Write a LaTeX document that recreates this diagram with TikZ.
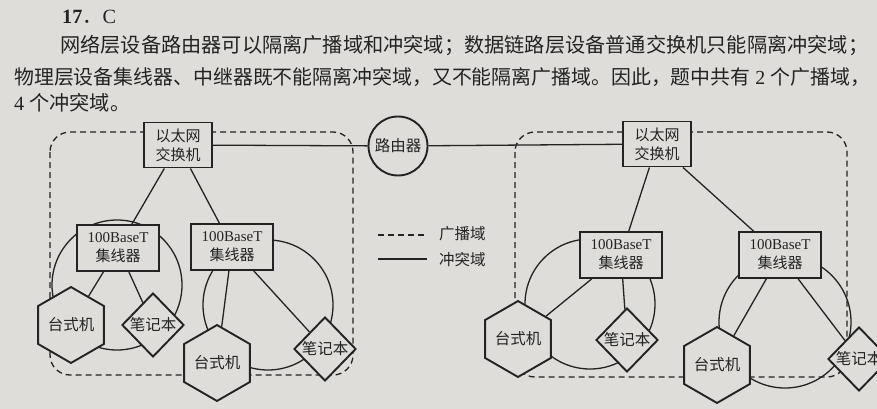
\documentclass[tikz,border=0pt]{standalone}
\usepackage{fontspec}
\setmainfont{Liberation Serif}
\newfontfamily\cjk{Noto Sans CJK SC}
\usetikzlibrary{shapes.geometric}
\definecolor{paper}{RGB}{222,221,217}
\definecolor{ink}{RGB}{35,35,35}

\begin{document}
\begin{tikzpicture}[x=1pt,y=-1pt,
  every node/.style={text=ink},
  swbox/.style={draw=ink,line width=1.9pt,fill=paper,minimum width=68pt,minimum height=45pt,inner sep=0pt,align=center,font=\fontsize{15}{19}\selectfont},
  hubbox/.style={swbox,minimum width=82pt,minimum height=46pt},
  pc/.style={draw=ink,line width=1.9pt,fill=paper,regular polygon,regular polygon sides=6,shape border rotate=30,minimum size=65pt,inner sep=0pt,font=\cjk\fontsize{15.5}{19}\selectfont},
  nb/.style={draw=ink,line width=1.9pt,fill=paper,diamond,minimum width=62pt,minimum height=64pt,inner sep=0pt,font=\cjk\fontsize{15.5}{19}\selectfont},
  wire/.style={draw=ink,line width=1.3pt},
  bcast/.style={wire,dash pattern=on 6pt off 4pt},
  txt/.style={anchor=west,inner sep=0pt,font=\fontsize{20.2}{24}\selectfont}
]
\fill[paper] (0,0) rectangle (877,409);
\useasboundingbox (0,0) rectangle (877,409);

% answer text
\node[txt] (head) at (62,17) {\textbf{17}{\cjk ．}C};
\node[txt] (lineA) at (60,46) {\cjk 网络层设备路由器可以隔离广播域和冲突域；数据链路层设备普通交换机只能隔离冲突域；};
\node[txt,font=\fontsize{19.9}{24}\selectfont] (lineB) at (14,77) {{\cjk 物理层设备集线器、中继器既不能隔离冲突域，又不能隔离广播域。因此，题中共有} 2 {\cjk 个广播域，}};
\node[txt] (lineC) at (14,103) {4 {\cjk 个冲突域。}};

% broadcast domains
\draw[bcast,rounded corners=20pt] (50,132) rectangle (353,375);
\draw[bcast,rounded corners=20pt] (515,132) rectangle (847,377);

% collision domains
\draw[wire] (117,285) circle (65);
\draw[wire] (268,305) circle (65);
\draw[wire] (590,304) circle (65);
\draw[wire] (785,322) circle (66);

% devices
\node[swbox] (swL) at (178,145) {\cjk 以太网\\\cjk 交换机};
\node[draw=ink,line width=1.9pt,fill=paper,circle,minimum size=59pt,inner sep=0pt,font=\cjk\fontsize{15.5}{19}\selectfont] (router) at (398,146) {路由器};
\node[swbox] (swR) at (657,144) {\cjk 以太网\\\cjk 交换机};

\node[hubbox] (hubA) at (118,248) {100BaseT\\\cjk 集线器};
\node[hubbox] (hubB) at (232,247) {100BaseT\\\cjk 集线器};
\node[hubbox] (hubC) at (621,255) {100BaseT\\\cjk 集线器};
\node[hubbox] (hubD) at (780,255) {100BaseT\\\cjk 集线器};

\node[pc] (pcA) at (71,325) {台式机};
\node[nb] (nbA) at (153,325) {笔记本};
\node[pc] (pcB) at (217,363) {台式机};
\node[nb] (nbB) at (325,349) {笔记本};
\node[pc] (pcC) at (518,339) {台式机};
\node[nb] (nbC) at (627,340) {笔记本};
\node[pc] (pcD) at (717,365) {台式机};
\node[nb] (nbD) at (859,359) {笔记本};

% links
\draw[wire] (swL) -- (router) -- (swR);
\draw[wire] (swL) -- (hubA);
\draw[wire] (swL) -- (hubB);
\draw[wire] (swR) -- (hubC);
\draw[wire] (swR) -- (hubD);
\draw[wire] (hubA) -- (pcA);
\draw[wire] (hubA) -- (nbA);
\draw[wire] (hubB) -- (pcB);
\draw[wire] (hubB) -- (nbB);
\draw[wire] (hubC) -- (pcC);
\draw[wire] (hubC) -- (nbC);
\draw[wire] (hubD) -- (pcD);
\draw[wire] (hubD) -- (nbD);

% legend
\coordinate (bcA) at (378,235);
\coordinate (bcB) at (427,235);
\coordinate (clA) at (378,259);
\coordinate (clB) at (427,259);
\draw[bcast] (bcA) -- (bcB);
\draw[wire] (clA) -- (clB);
\node[anchor=west,inner sep=0pt,font=\cjk\fontsize{15.5}{19}\selectfont] (bcText) at (439,234) {广播域};
\node[anchor=west,inner sep=0pt,font=\cjk\fontsize{15.5}{19}\selectfont] (clText) at (439,260) {冲突域};
\end{tikzpicture}
\end{document}
